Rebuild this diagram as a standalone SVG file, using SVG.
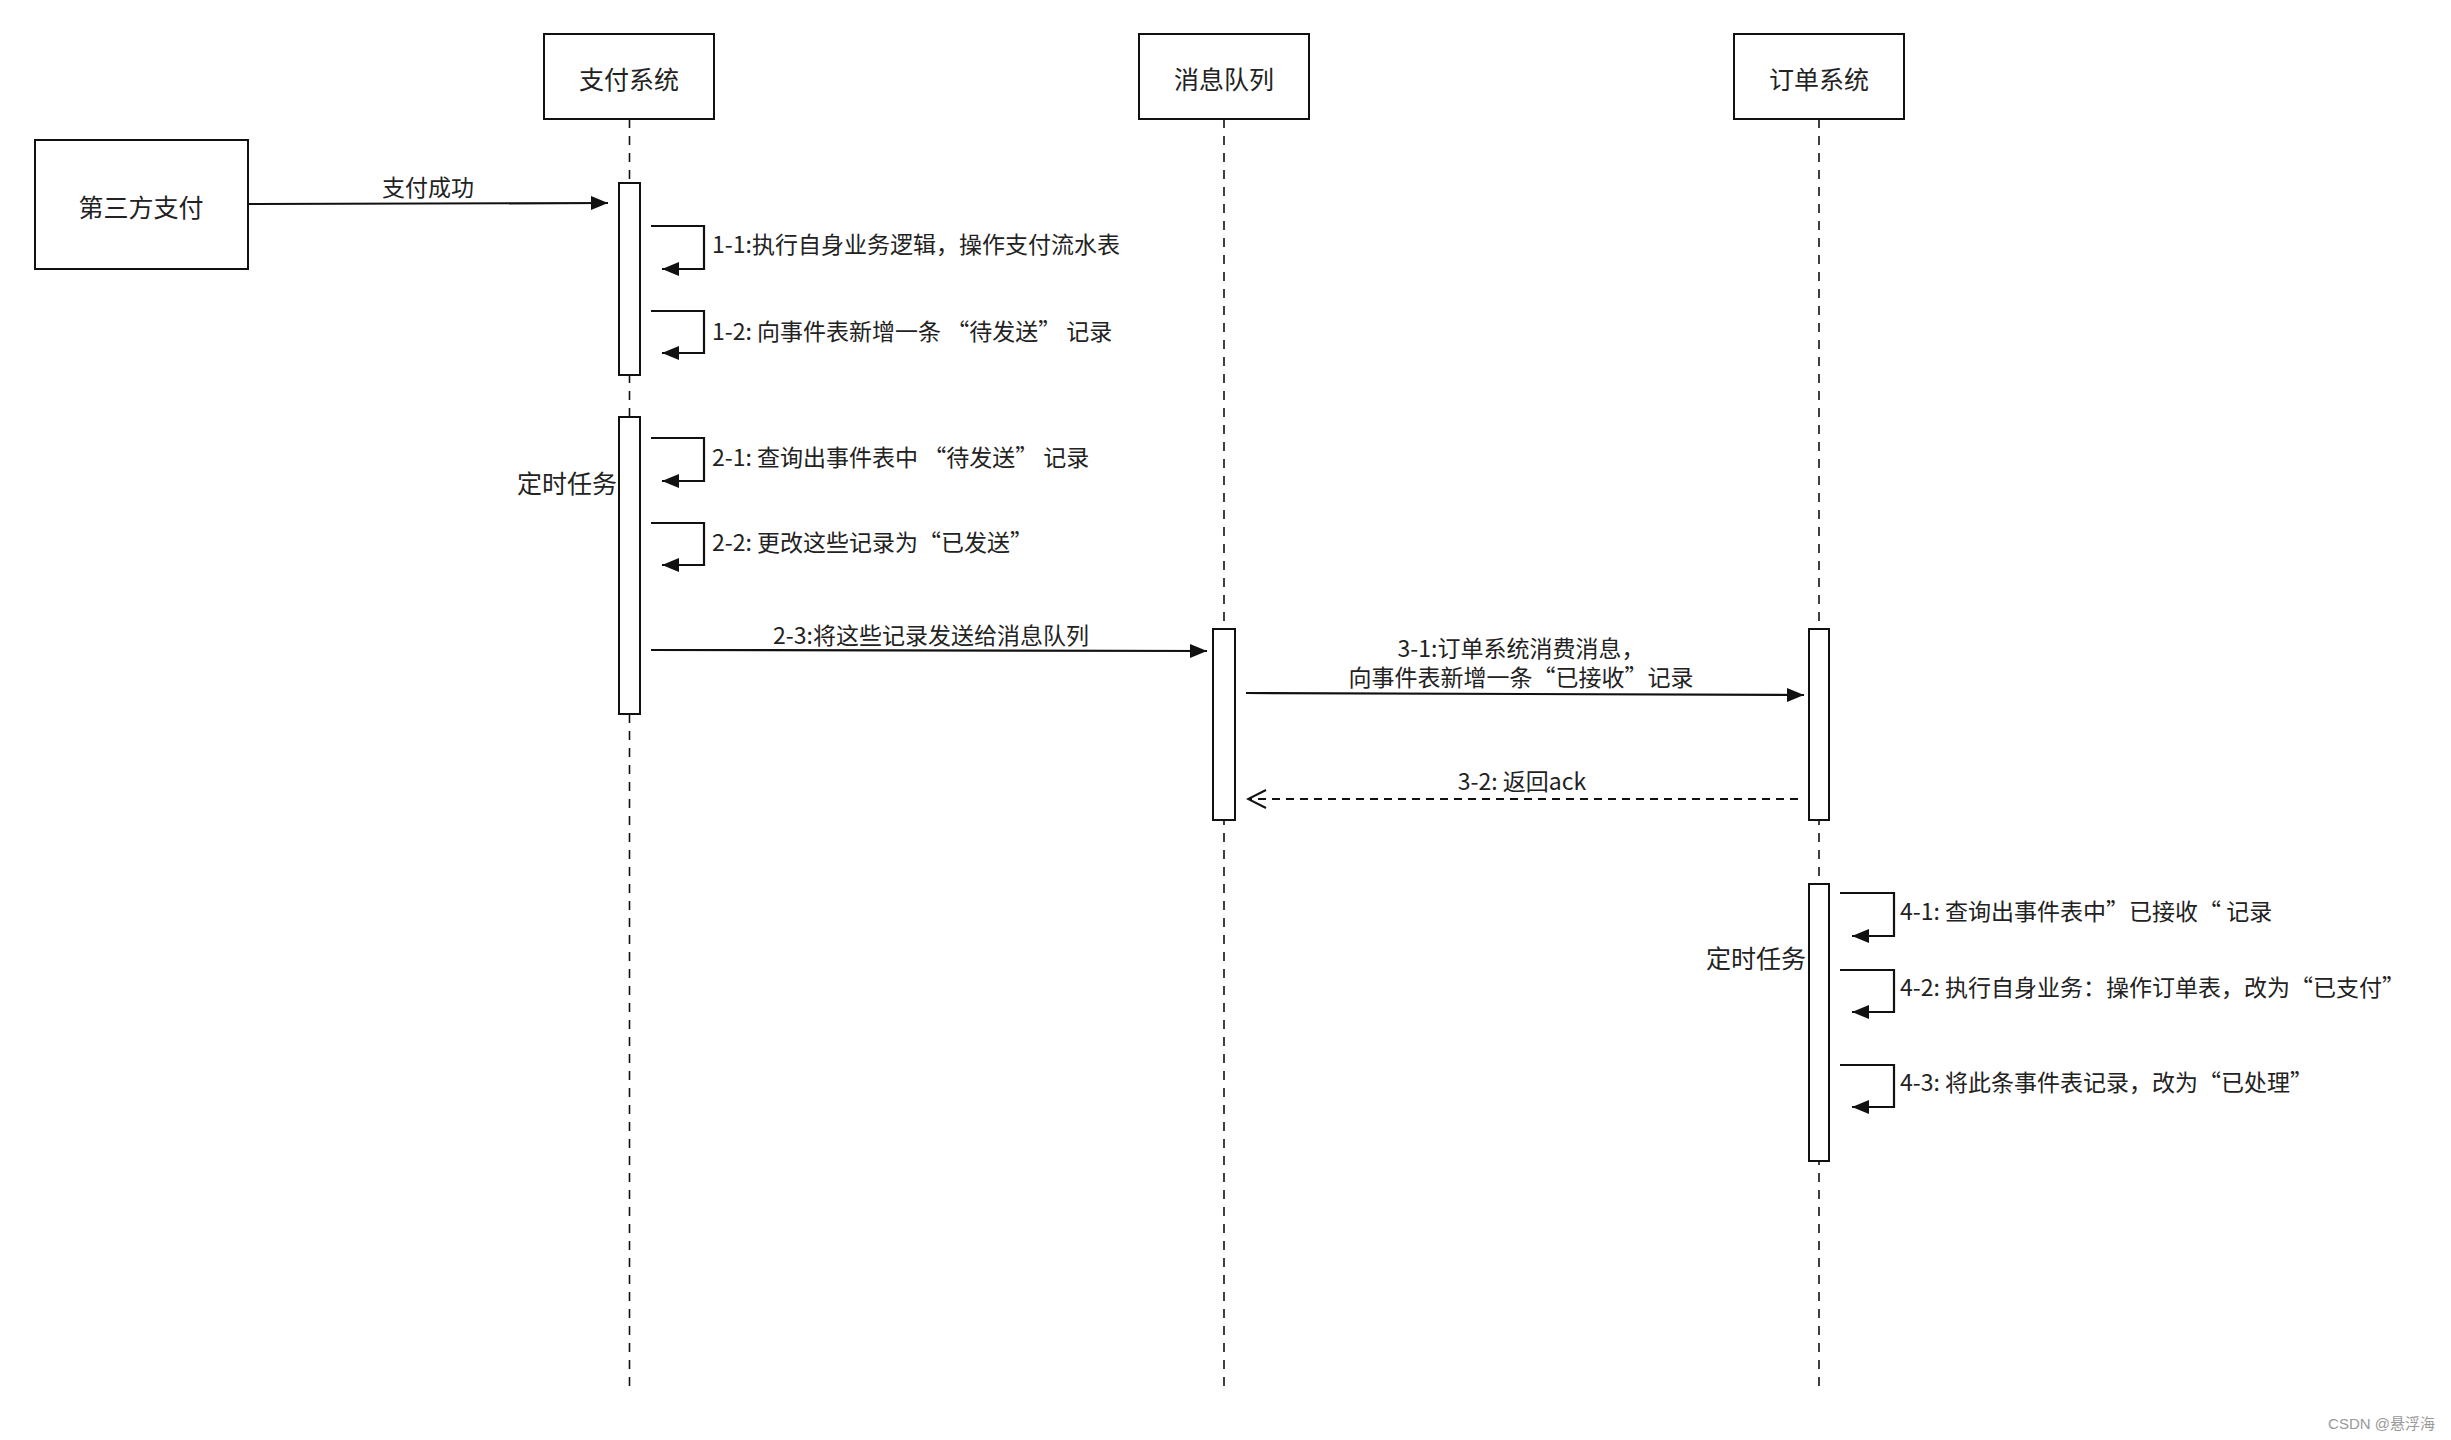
<svg xmlns="http://www.w3.org/2000/svg" width="2451" height="1440" viewBox="0 0 2451 1440">
<style>
.box{fill:#fff;stroke:#111;stroke-width:2}
.act{fill:#fff;stroke:#111;stroke-width:2}
.life{stroke:#111;stroke-width:1.6;stroke-dasharray:9 8;fill:none}
.msg{stroke:#111;stroke-width:2.2;fill:none}
.ret{stroke:#111;stroke-width:2;fill:none;stroke-dasharray:8 6}
.t{font-family:"Noto Sans CJK SC","Noto Sans",sans-serif;fill:#222;dominant-baseline:central}
.n{font-size:25px;text-anchor:middle}
.l{font-size:23px}
.c{text-anchor:middle}
.e{text-anchor:end}
</style>
<defs>
<marker id="fa" markerUnits="userSpaceOnUse" markerWidth="18" markerHeight="16" refX="17" refY="8" orient="auto">
<path d="M0,1 L17,8 L0,15 z" fill="#111"/>
</marker>
<marker id="oa" markerUnits="userSpaceOnUse" markerWidth="22" markerHeight="22" refX="20" refY="11" orient="auto">
<path d="M2,2 L20,11 L2,20" fill="none" stroke="#111" stroke-width="2"/>
</marker>
</defs>
<rect width="2451" height="1440" fill="#fff"/>

<g id="lifelines">
<line class="life" x1="629.5" y1="119" x2="629.5" y2="1386"/>
<line class="life" x1="1224" y1="119" x2="1224" y2="1386"/>
<line class="life" x1="1819" y1="119" x2="1819" y2="1386"/>
</g>

<g id="third-party">
<rect class="box" x="35" y="140" width="213" height="129"/>
<text class="t n" x="141" y="206">第三方支付</text>
</g>
<g id="pay-system">
<rect class="box" x="544" y="34" width="170" height="85"/>
<text class="t n" x="629" y="78">支付系统</text>
</g>
<g id="mq">
<rect class="box" x="1139" y="34" width="170" height="85"/>
<text class="t n" x="1224" y="78">消息队列</text>
</g>
<g id="order-system">
<rect class="box" x="1734" y="34" width="170" height="85"/>
<text class="t n" x="1819" y="78">订单系统</text>
</g>

<g id="activations">
<rect class="act" x="619" y="183" width="21" height="192"/>
<rect class="act" x="619" y="417" width="21" height="297"/>
<rect class="act" x="1213" y="629" width="22" height="191"/>
<rect class="act" x="1809" y="629" width="20" height="191"/>
<rect class="act" x="1809" y="884" width="20" height="277"/>
</g>

<g id="timer1">
<text class="t e" x="617" y="482" font-size="25">定时任务</text>
</g>
<g id="timer2">
<text class="t e" x="1806" y="957" font-size="25">定时任务</text>
</g>

<g id="connectors">
<line class="msg" x1="248" y1="204" x2="608" y2="203" marker-end="url(#fa)"/>
<path class="msg" d="M651,226 H704 V269 H662" marker-end="url(#fa)"/>
<path class="msg" d="M651,311 H704 V353 H662" marker-end="url(#fa)"/>
<path class="msg" d="M651,438 H704 V481 H662" marker-end="url(#fa)"/>
<path class="msg" d="M651,523 H704 V565 H662" marker-end="url(#fa)"/>
<line class="msg" x1="651" y1="650" x2="1207" y2="651" marker-end="url(#fa)"/>
<line class="msg" x1="1246" y1="693" x2="1804" y2="695" marker-end="url(#fa)"/>
<line class="ret" x1="1798" y1="799" x2="1248" y2="799" marker-end="url(#oa)"/>
<path class="msg" d="M1840,893 H1894 V936 H1852" marker-end="url(#fa)"/>
<path class="msg" d="M1840,970 H1894 V1012 H1852" marker-end="url(#fa)"/>
<path class="msg" d="M1840,1065 H1894 V1107 H1852" marker-end="url(#fa)"/>
</g>

<g id="labels">
<text class="t l c" x="428" y="186">支付成功</text>
<text class="t l" x="712" y="243">1-1:执行自身业务逻辑，操作支付流水表</text>
<text class="t l" x="712" y="330">1-2: 向事件表新增一条 “待发送” 记录</text>
<text class="t l" x="712" y="456">2-1: 查询出事件表中 “待发送” 记录</text>
<text class="t l" x="712" y="541">2-2: 更改这些记录为“已发送”</text>
<text class="t l c" x="931" y="634">2-3:将这些记录发送给消息队列</text>
<text class="t l c" x="1521" y="647"><tspan x="1521" y="647">3-1:订单系统消费消息，</tspan><tspan x="1521" y="676">向事件表新增一条“已接收”记录</tspan></text>
<text class="t l c" x="1522" y="780">3-2: 返回ack</text>
<text class="t l" x="1900" y="910">4-1: 查询出事件表中”已接收“ 记录</text>
<text class="t l" x="1900" y="986">4-2: 执行自身业务：操作订单表，改为“已支付”</text>
<text class="t l" x="1900" y="1081">4-3: 将此条事件表记录，改为“已处理”</text>
</g>

<text x="2435" y="1423" font-family="Liberation Sans,'Noto Sans CJK SC',sans-serif" font-size="15" fill="#999" text-anchor="end" dominant-baseline="central">CSDN @悬浮海</text>
</svg>
